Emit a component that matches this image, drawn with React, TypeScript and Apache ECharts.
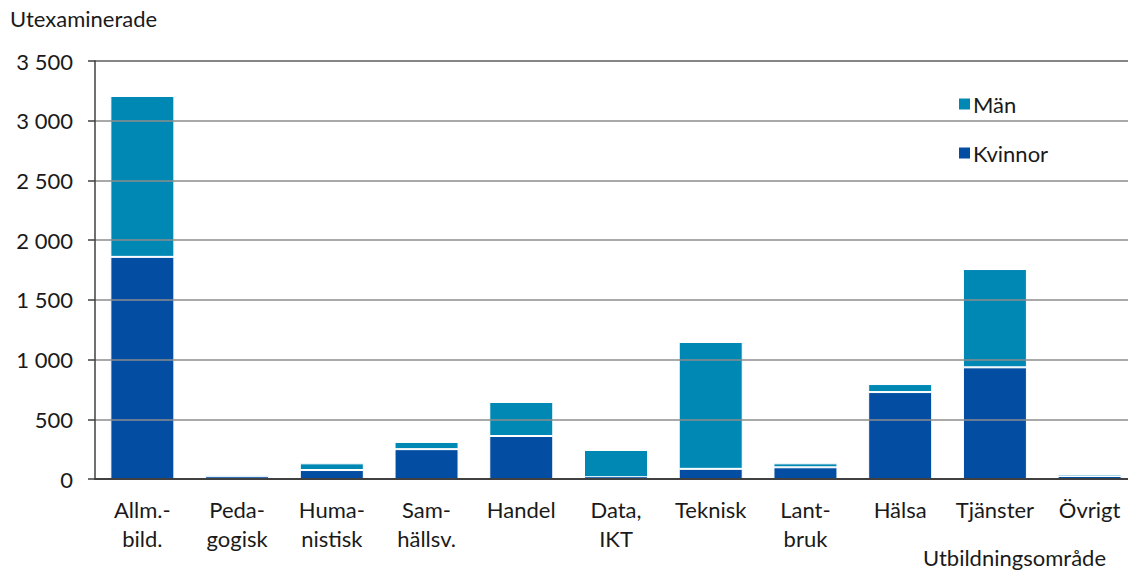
import React, { useEffect, useRef } from "react";
import * as echarts from "echarts";

const categories = [
  "Allm.-\nbild.",
  "Peda-\ngogisk",
  "Huma-\nnistisk",
  "Sam-\nhällsv.",
  "Handel",
  "Data,\nIKT",
  "Teknisk",
  "Lant-\nbruk",
  "Hälsa",
  "Tjänster",
  "Övrigt",
];
const kvinnor = [1860, 15, 75, 250, 360, 15, 85, 98, 728, 935, 20];
const man = [1347, 4, 56, 60, 285, 228, 1062, 33, 67, 823, 18];

const yTicks = { min: 0, max: 3500, interval: 500 };

const FONT = "Lato";

function fmt(v: number): string {
  if (v >= 1000) {
    return Math.floor(v / 1000) + " " + String(v % 1000).padStart(3, "0");
  }
  return String(v);
}

export default function App() {
  const ref = useRef<HTMLDivElement>(null);
  useEffect(() => {
    if (!ref.current) return;
    const chart = echarts.init(ref.current, undefined, { renderer: "svg" });
    chart.setOption({
      animation: false,
      backgroundColor: "#ffffff",
      textStyle: { fontFamily: FONT },
      grid: { left: 95, right: 0, top: 61, bottom: 92, containLabel: false },
      legend: {
        data: ["Män", "Kvinnor"],
        orient: "vertical",
        left: 954,
        top: 88,
        itemWidth: 11,
        itemHeight: 11,
        itemGap: 27,
        icon: "rect",
        itemStyle: { borderWidth: 0 },
        textStyle: { fontFamily: FONT, fontSize: 22, color: "#1a1a1a", padding: [0, 0, 0, -2] },
      },
      xAxis: [
        {
          type: "category",
          data: categories,
          z: 3,
          axisLine: { lineStyle: { color: "#404040", width: 2 } },
          axisTick: { show: false },
          axisLabel: {
            fontFamily: FONT,
            fontSize: 22,
            color: "#1a1a1a",
            margin: 16,
            lineHeight: 29,
            interval: 0,
          },
        },
        {
          type: "category",
          data: categories,
          position: "top",
          axisLine: { lineStyle: { color: "#404040", width: 1.5 } },
          axisTick: { show: false },
          axisLabel: { show: false },
        },
      ],
      yAxis: {
        type: "value",
        min: yTicks.min,
        max: yTicks.max,
        interval: yTicks.interval,
        z: 3,
        axisLine: { show: true, lineStyle: { color: "#404040", width: 1.5 } },
        axisTick: { show: true, length: 7, lineStyle: { color: "#404040", width: 1.5 } },
        splitLine: { lineStyle: { color: "#8c8c8c", width: 1.5 } },
        axisLabel: {
          fontFamily: FONT,
          fontSize: 22,
          color: "#1a1a1a",
          margin: 22,
          formatter: (v: number) => fmt(v),
        },
      },
      series: [
        {
          name: "Kvinnor",
          type: "bar",
          stack: "total",
          data: kvinnor,
          barWidth: 64,
          barMinHeight: 3,
          itemStyle: { color: "#034ea2", borderColor: "#ffffff", borderWidth: 1 },
        },
        {
          name: "Män",
          type: "bar",
          stack: "total",
          data: man,
          barWidth: 64,
          barMinHeight: 2,
          itemStyle: { color: "#0088b4", borderColor: "#ffffff", borderWidth: 1 },
        },
      ],
      graphic: [
        {
          type: "text",
          left: 10,
          top: 7,
          style: { text: "Utexaminerade", fontFamily: FONT, fontSize: 22, fill: "#1a1a1a" },
        },
        {
          type: "text",
          right: 31,
          top: 546,
          style: { text: "Utbildningsområde", fontFamily: FONT, fontSize: 22, fill: "#1a1a1a" },
        },
      ],
    });
    return () => chart.dispose();
  }, []);
  return (
    <div
      ref={ref}
      style={{ position: "fixed", left: 0, top: 0, width: 1137, height: 571, overflow: "hidden" }}
    />
  );
}
